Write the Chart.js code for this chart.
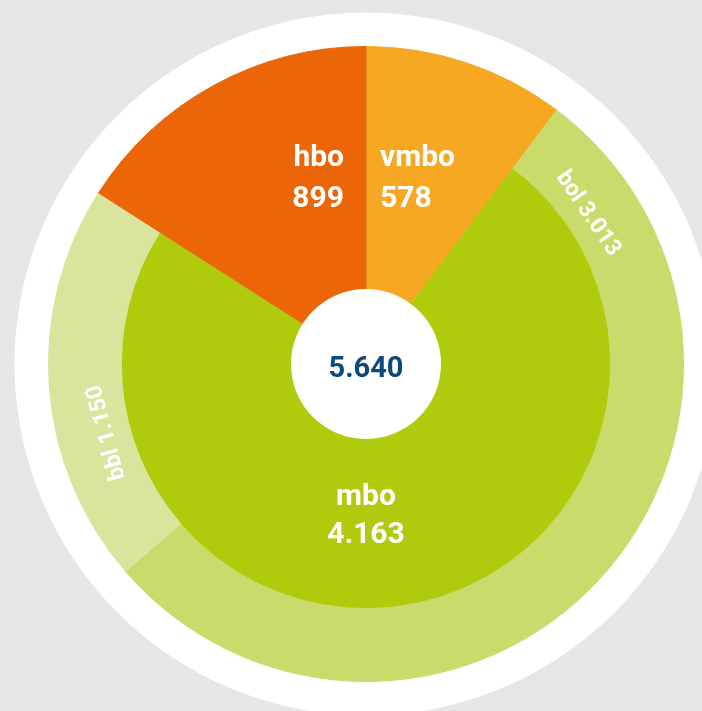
<!DOCTYPE html>
<html><head><meta charset="utf-8">
<script src="https://cdn.jsdelivr.net/npm/chart.js@4.4.1/dist/chart.umd.min.js"></script>
<style>html,body{margin:0;padding:0;background:#e6e6e6;overflow:hidden}canvas{display:block}</style>
</head><body>
<canvas id="c" width="702" height="711"></canvas>
<script>
// Data
const outerLabels = ['vmbo', 'bol', 'bbl', 'hbo'];
const outerValues = [578, 3013, 1150, 899];
const innerLabels = ['vmbo', 'mbo', 'hbo'];
const innerValues = [578, 4163, 899];
const totalValue = 5640;

const outerColors = ['#f7a823', '#c9db6b', '#d9e49d', '#ec6608'];
const innerColors = ['#f7a823', '#b0cb0b', '#ec6608'];

function fmt(n) { return String(n).replace(/\B(?=(\d{3})+(?!\d))/g, '.'); }

const FONT = 'Roboto, "Open Sans", sans-serif';

const deco = {
  id: 'deco',
  beforeDatasetsDraw(chart) {
    const ctx = chart.ctx;
    const a = chart.getDatasetMeta(0).data[0];
    const p = a.getProps(['x', 'y', 'outerRadius'], true);
    ctx.save();
    ctx.fillStyle = '#ffffff';
    ctx.beginPath();
    ctx.arc(p.x, p.y, p.outerRadius + 34, 0, Math.PI * 2);
    ctx.fill();
    ctx.restore();
  },
  afterDatasetsDraw(chart) {
    const ctx = chart.ctx;
    const m0 = chart.getDatasetMeta(0);
    const m1 = chart.getDatasetMeta(1);
    const c = m1.data[0].getProps(['x', 'y', 'innerRadius'], true);
    const cx = c.x, cy = c.y;
    ctx.save();
    ctx.fillStyle = '#ffffff';
    ctx.beginPath();
    ctx.arc(cx, cy, c.innerRadius, 0, Math.PI * 2);
    ctx.fill();
    ctx.fillStyle = '#0b4a7d';
    ctx.font = 'bold 29px ' + FONT;
    ctx.textAlign = 'center';
    ctx.textBaseline = 'alphabetic';
    ctx.fillText(fmt(totalValue), cx, cy + 13);

    ctx.fillStyle = '#ffffff';
    ctx.font = 'bold 30px ' + FONT;
    ctx.textAlign = 'right';
    ctx.fillText(innerLabels[2], cx - 22, cy - 198);
    ctx.fillText(fmt(innerValues[2]), cx - 22, cy - 157);
    ctx.textAlign = 'left';
    ctx.fillText(innerLabels[0], cx + 14, cy - 198);
    ctx.fillText(fmt(innerValues[0]), cx + 14, cy - 157);
    ctx.textAlign = 'center';
    ctx.fillText(innerLabels[1], cx, cy + 141);
    ctx.fillText(fmt(innerValues[1]), cx, cy + 179);

    ctx.font = 'bold 23px ' + FONT;
    ctx.textBaseline = 'middle';
    const ringLabel = (idx, offDeg) => {
      const a = m0.data[idx].getProps(['x', 'y', 'startAngle', 'innerRadius', 'outerRadius'], true);
      const th = a.startAngle + offDeg * Math.PI / 180;
      const r = (a.innerRadius + a.outerRadius) / 2 - 13;
      ctx.save();
      ctx.translate(a.x + r * Math.cos(th), a.y + r * Math.sin(th));
      ctx.rotate(th + Math.PI / 2);
      ctx.fillText(outerLabels[idx] + ' ' + fmt(outerValues[idx]), 0, 0);
      ctx.restore();
    };
    ringLabel(1, 19);
    ringLabel(2, 26);
    ctx.restore();
  }
};

new Chart(document.getElementById('c'), {
  type: 'doughnut',
  data: {
    labels: outerLabels,
    datasets: [
      { data: outerValues, backgroundColor: outerColors, borderColor: outerColors, borderWidth: 1, weight: 73 },
      { data: innerValues, backgroundColor: innerColors, borderColor: innerColors, borderWidth: 1, weight: 170 }
    ]
  },
  options: {
    responsive: false,
    animation: false,
    cutout: 75,
    layout: { padding: { left: 48, top: 46, right: 18, bottom: 29 } },
    plugins: { legend: { display: false }, tooltip: { enabled: false } }
  },
  plugins: [deco]
});
</script>
</body></html>
